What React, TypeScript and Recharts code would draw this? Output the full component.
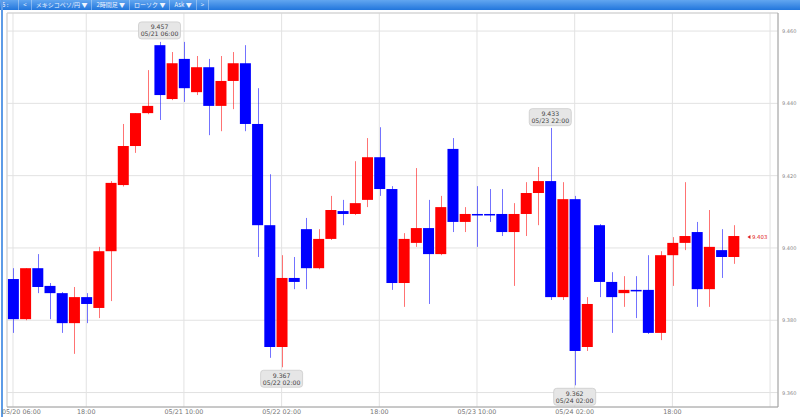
import { ComposedChart, Bar, XAxis, YAxis, CartesianGrid, ReferenceDot, ReferenceLine } from "recharts"

// 2-hour candles, MXN/JPY, starting 05/20 06:00
const opens = [
  9.3914, 9.3803, 9.3944, 9.3895, 9.3875, 9.3792, 9.3864, 9.3834, 9.3991, 9.4174,
  9.4282, 9.4373, 9.4561, 9.4412, 9.4523, 9.4431, 9.45, 9.4393, 9.4462, 9.4511,
  9.4343, 9.4063, 9.3726, 9.3917, 9.4052, 9.3944, 9.4025, 9.4102, 9.4094, 9.4133,
  9.4251, 9.4163, 9.3903, 9.4014, 9.4055, 9.3983, 9.4274, 9.4072, 9.4094, 9.4094,
  9.4094, 9.4044, 9.4094, 9.4152, 9.4185, 9.3864, 9.4135, 9.3726, 9.4063, 9.3906,
  9.3875, 9.3884, 9.3884, 9.3765, 9.398, 9.4014, 9.4044, 9.3886, 9.3994, 9.3975,
]
const highs = [
  9.3944, 9.3944, 9.3983, 9.3903, 9.3878, 9.3892, 9.3875, 9.4003, 9.4185, 9.4343,
  9.4373, 9.4492, 9.457, 9.4542, 9.457, 9.4531, 9.4523, 9.4531, 9.4542, 9.4561,
  9.4442, 9.4204, 9.398, 9.3975, 9.4083, 9.4052, 9.4144, 9.4133, 9.424, 9.4304,
  9.4334, 9.4171, 9.4041, 9.4221, 9.4133, 9.4144, 9.4304, 9.4113, 9.4171, 9.4163,
  9.4163, 9.4124, 9.4182, 9.4224, 9.4332, 9.4182, 9.4144, 9.3864, 9.4066, 9.3933,
  9.3922, 9.3922, 9.398, 9.3991, 9.403, 9.4182, 9.4072, 9.4105, 9.4052, 9.4063,
]
const lows = [
  9.3765, 9.38, 9.3875, 9.3803, 9.3765, 9.3707, 9.3792, 9.3806, 9.3853, 9.417,
  9.4263, 9.437, 9.4354, 9.4409, 9.4404, 9.4423, 9.4312, 9.4323, 9.4384, 9.4323,
  9.3975, 9.3696, 9.367, 9.3886, 9.3886, 9.3941, 9.4022, 9.4063, 9.4091, 9.4113,
  9.4144, 9.3884, 9.3837, 9.4003, 9.3845, 9.398, 9.4044, 9.4044, 9.4003, 9.4072,
  9.4033, 9.3895, 9.4033, 9.4063, 9.3856, 9.3856, 9.362, 9.3715, 9.3864, 9.3765,
  9.3837, 9.3806, 9.3762, 9.3745, 9.3895, 9.3994, 9.3837, 9.3837, 9.3917, 9.3956,
]
const closes = [
  9.3803, 9.3944, 9.3892, 9.3875, 9.3792, 9.3864, 9.3845, 9.3991, 9.418, 9.4282,
  9.4373, 9.4393, 9.4423, 9.4511, 9.4442, 9.45, 9.4393, 9.4462, 9.4511, 9.4343,
  9.4063, 9.3726, 9.3917, 9.3906, 9.3944, 9.4025, 9.4105, 9.4094, 9.4124, 9.4251,
  9.4163, 9.3903, 9.4025, 9.4055, 9.3983, 9.4113, 9.4072, 9.4094, 9.4094, 9.4094,
  9.4044, 9.4094, 9.4152, 9.4185, 9.3864, 9.4135, 9.3715, 9.3845, 9.3906, 9.3864,
  9.3884, 9.3884, 9.3765, 9.398, 9.4014, 9.4033, 9.3886, 9.4003, 9.3975, 9.4033,
]

const xTickIndex = [0, 6, 14, 22, 30, 38, 46, 54, 62]
const xTickLabels = ["05/20 06:00", "18:00", "05/21 10:00", "05/22 02:00", "18:00", "05/23 10:00", "05/24 02:00", "18:00", ""]
const yTicks = [9.36, 9.38, 9.4, 9.42, 9.44, 9.46]

// high / low callouts
const markIndex = [12, 22, 44, 46]
const markValue = [9.457, 9.367, 9.433, 9.362]
const markTime = ["05/21 06:00", "05/22 02:00", "05/23 22:00", "05/24 02:00"]
const markSide = ["high", "low", "high", "low"]

const lastIndex = 59
const lastPrice = 9.403

const toolbarItems = ["5 :", "<", "メキシコペソ/円 ▼", "2時間足 ▼", "ローソク ▼", "Ask ▼", ">"]

const candles = opens.map((open, i) => ({
  i,
  open,
  high: highs[i],
  low: lows[i],
  close: closes[i],
}))

const UP = "#ff0000"
const DOWN = "#0000ff"
const FONT = "DejaVu Sans, Verdana, sans-serif"

function Candle(props: any) {
  const { x, y, width, height, payload } = props
  if (!payload) return null
  const { open, close, high, low } = payload
  const k = height / (high - low)
  const cx = Math.round(x + width / 2) + 0.5
  const top = y + (high - Math.max(open, close)) * k
  const bot = y + (high - Math.min(open, close)) * k
  const color = close > open ? UP : DOWN
  return (
    <g>
      <line x1={cx} x2={cx} y1={y} y2={y + height} stroke={color} strokeOpacity={0.55} />
      <rect x={x} y={top} width={width} height={Math.max(bot - top, 1.5)} fill={color} />
    </g>
  )
}

function XTick(props: any) {
  const { x, y, payload, index } = props
  const pos = xTickIndex.indexOf(payload.value)
  const label = pos >= 0 ? xTickLabels[pos] : ""
  const first = index === 0
  return (
    <text
      x={first ? x - 11 : x}
      y={y + 5}
      textAnchor={first ? "start" : "middle"}
      dominantBaseline="central"
      fontSize={6.4}
      fontFamily={FONT}
      fill="#777"
    >
      {label}
    </text>
  )
}

function YTick(props: any) {
  const { x, y, payload } = props
  return (
    <text x={x + 4} y={y} textAnchor="start" dominantBaseline="central" fontSize={5} fontFamily={FONT} fill="#888">
      {payload.value.toFixed(3)}
    </text>
  )
}

function Callout({ cx, cy, value, time, side }: any) {
  const w = 42
  const h = 17
  const by = side === "high" ? cy - 3 - h : cy + 3
  return (
    <g>
      <rect x={cx - w / 2} y={by} width={w} height={h} rx={3} fill="#e6e6e6" stroke="#cccccc" strokeWidth={0.8} />
      <text x={cx} y={by + 5} textAnchor="middle" dominantBaseline="central" fontSize={6.2} fontFamily={FONT} fill="#444">
        {value.toFixed(3)}
      </text>
      <text x={cx} y={by + 12} textAnchor="middle" dominantBaseline="central" fontSize={6.2} fontFamily={FONT} fill="#444">
        {time}
      </text>
    </g>
  )
}

function LastPrice({ cx, cy }: any) {
  const ax = cx + 14
  return (
    <g>
      <polygon points={`${ax},${cy} ${ax + 3},${cy - 2} ${ax + 3},${cy + 2}`} fill="#e02020" />
      <text x={ax + 4.5} y={cy} dominantBaseline="central" fontSize={5.4} fontFamily={FONT} fill="#e02020">
        {lastPrice.toFixed(3)}
      </text>
    </g>
  )
}

export default function App() {
  return (
    <div style={{ position: "absolute", left: 0, top: 0, width: 800, height: 417, background: "#fff", overflow: "hidden" }}>
      {/* toolbar */}
      <div
        style={{
          position: "absolute",
          left: 0,
          top: 0,
          width: 800,
          height: 10,
          background: "linear-gradient(#62a6f0, #2276dc)",
          display: "flex",
          alignItems: "center",
          fontFamily: "Noto Sans CJK JP, sans-serif",
          fontSize: 6,
          color: "#eef4ff",
          whiteSpace: "nowrap",
        }}
      >
        {toolbarItems.map((t, i) => (
          <div
            key={i}
            style={{
              padding: i === 0 ? "0 10px 0 2px" : "0 4px",
              borderRight: "1px solid rgba(255,255,255,0.35)",
              lineHeight: "10px",
            }}
          >
            {t}
          </div>
        ))}
      </div>
      <div style={{ position: "absolute", left: 1, top: 0, width: 2, height: 417, background: "#5d9be6" }} />

      <ComposedChart width={800} height={417} data={candles} margin={{ top: 13, right: 0, bottom: 0, left: 7 }}>
        <CartesianGrid stroke="#e2e2e2" />
        <XAxis
          dataKey="i"
          type="number"
          domain={[-0.49, 62.65]}
          ticks={xTickIndex}
          interval={0}
          allowDataOverflow
          height={10}
          tickSize={0}
          tickMargin={0}
          tickLine={false}
          axisLine={{ stroke: "#a0a0a0" }}
          tick={<XTick />}
        />
        <YAxis
          orientation="right"
          type="number"
          domain={[9.356, 9.465]}
          ticks={yTicks}
          interval={0}
          allowDataOverflow
          width={22}
          tickSize={0}
          tickMargin={0}
          tickLine={false}
          axisLine={{ stroke: "#a0a0a0" }}
          tick={<YTick />}
        />
        <ReferenceLine y={9.465} stroke="#cfcfcf" />
        <ReferenceLine x={-0.49} stroke="#cfcfcf" />
        <Bar dataKey={(d: any) => [d.low, d.high]} barSize={11} shape={<Candle />} isAnimationActive={false} />
        {markIndex.map((idx, k) => (
          <ReferenceDot
            key={k}
            x={idx}
            y={markValue[k]}
            r={0}
            ifOverflow="visible"
            shape={(p: any) => <Callout cx={p.cx} cy={p.cy} value={markValue[k]} time={markTime[k]} side={markSide[k]} />}
          />
        ))}
        <ReferenceDot x={lastIndex} y={lastPrice} r={0} ifOverflow="visible" shape={(p: any) => <LastPrice cx={p.cx} cy={p.cy} />} />
      </ComposedChart>
    </div>
  )
}
